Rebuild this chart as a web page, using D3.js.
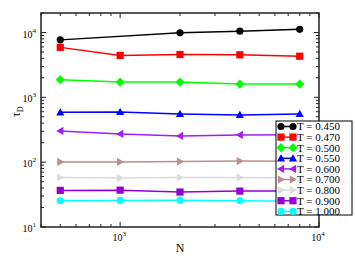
<!DOCTYPE html>
<meta charset="utf-8">
<script src="https://d3js.org/d3.v7.min.js"></script>
<style>
  body { margin: 0; background: #fff; }
  text { font-family: "Liberation Serif", "DejaVu Serif", serif; }
</style>
<div id="my_dataviz"></div>
<script>

// data (null = no point at that N)
var sizes = [500, 1000, 2000, 4000, 8000];
var temps = ["0.450", "0.470", "0.500", "0.550", "0.600", "0.700", "0.800", "0.900", "1.000"];
var tau045 = [7700, null, 9900, 10500, 11200];
var tau047 = [5900, 4430, 4580, 4530, 4310];
var tau050 = [1870, 1720, 1720, 1600, 1600];
var tau055 = [588, 594, 554, 535, 554];
var tau060 = [303, 273, 254, 263, 265];
var tau070 = [101, 101, 102, 104, 103];
var tau080 = [58, 57, 58, 58, 57];
var tau090 = [36.7, 37, 34.6, 35.8, 36];
var tau100 = [25.4, 25.7, 25.9, 25.4, 25];
var xTicks = [1000, 10000];
var yTicks = [10, 100, 1000, 10000];

var colors = ["#000000", "#ff0000", "#00ff00", "#0000ff", "#a020f0", "#bc8f8f", "#dcdcdc", "#9400d3", "#00ffff"];
var shapes = ["circle", "square", "diamond", "up", "left", "right", "right", "square", "circle"];
var allTau = [tau045, tau047, tau050, tau055, tau060, tau070, tau080, tau090, tau100];

var margin = {top: 13, right: 36, bottom: 40, left: 41},
    width = 355 - margin.left - margin.right,
    height = 267 - margin.top - margin.bottom;

var svg = d3.select("#my_dataviz")
  .append("svg")
    .attr("width", 355)
    .attr("height", 267)
  .append("g")
    .attr("transform", "translate(" + margin.left + "," + margin.top + ")");

var x = d3.scaleLog().domain([400, 10000]).range([0, width]);
var y = d3.scaleLog().domain([10, 20000]).range([height, 0]);

// minor ticks
var xMinor = [], yMinor = [];
[100, 1000].forEach(function(d) { for (var k = 2; k <= 9; k++) if (d * k >= 400 && d * k < 10000) xMinor.push(d * k); });
[10, 100, 1000, 10000].forEach(function(d) { for (var k = 2; k <= 9; k++) if (d * k <= 20000) yMinor.push(d * k); });

function sup(sel, p) {
  sel.append("tspan").text("10");
  sel.append("tspan").attr("dy", -5).style("font-size", "7px").text(p);
}

var ax = svg.append("g").attr("stroke", "#222").attr("stroke-width", 1);
xTicks.forEach(function(d) {
  ax.append("line").attr("x1", x(d)).attr("x2", x(d)).attr("y1", height).attr("y2", height - 5);
  ax.append("line").attr("x1", x(d)).attr("x2", x(d)).attr("y1", 0).attr("y2", 5);
});
xMinor.forEach(function(d) {
  ax.append("line").attr("x1", x(d)).attr("x2", x(d)).attr("y1", height).attr("y2", height - 3);
  ax.append("line").attr("x1", x(d)).attr("x2", x(d)).attr("y1", 0).attr("y2", 3);
});
yTicks.forEach(function(d) {
  ax.append("line").attr("y1", y(d)).attr("y2", y(d)).attr("x1", 0).attr("x2", 5);
  ax.append("line").attr("y1", y(d)).attr("y2", y(d)).attr("x1", width).attr("x2", width - 5);
});
yMinor.forEach(function(d) {
  ax.append("line").attr("y1", y(d)).attr("y2", y(d)).attr("x1", 0).attr("x2", 3);
  ax.append("line").attr("y1", y(d)).attr("y2", y(d)).attr("x1", width).attr("x2", width - 3);
});

xTicks.forEach(function(d) {
  svg.append("text").attr("x", x(d) - 1).attr("y", height + 14)
    .attr("text-anchor", "middle").style("font-size", "10px")
    .call(sup, Math.round(Math.log10(d)));
});
yTicks.forEach(function(d) {
  svg.append("text").attr("x", -5).attr("y", y(d) + 5)
    .attr("text-anchor", "end").style("font-size", "10px")
    .call(sup, Math.round(Math.log10(d)));
});

svg.append("text").attr("x", x(2000)).attr("y", height + 25)
  .attr("text-anchor", "middle").style("font-size", "12px").text("N");
svg.append("text")
  .attr("transform", "translate(-21," + (y(600)) + ")rotate(-90)")
  .attr("text-anchor", "middle").style("font-size", "12px")
  .call(function(t) {
    t.append("tspan").text("τ");
    t.append("tspan").attr("dy", 3).style("font-size", "8px").text("D");
  });

function marker(g, shape, cx, cy, color) {
  var s = 3.6, p;
  if (shape == "circle") {
    g.append("circle").attr("cx", cx).attr("cy", cy).attr("r", s).attr("fill", color);
    return;
  }
  if (shape == "square") p = [[-s, -s], [s, -s], [s, s], [-s, s]];
  if (shape == "diamond") p = [[0, -s - 1], [s + 1, 0], [0, s + 1], [-s - 1, 0]];
  if (shape == "up") p = [[0, -s - 0.5], [s + 0.5, s - 0.5], [-s - 0.5, s - 0.5]];
  if (shape == "left") p = [[-s - 0.5, 0], [s - 0.5, -s - 0.5], [s - 0.5, s + 0.5]];
  if (shape == "right") p = [[s + 0.5, 0], [-s + 0.5, -s - 0.5], [-s + 0.5, s + 0.5]];
  g.append("polygon")
    .attr("points", p.map(function(q) { return (cx + q[0]) + "," + (cy + q[1]); }).join(" "))
    .attr("fill", color);
}

var line = d3.line().x(function(d) { return x(d[0]); }).y(function(d) { return y(d[1]); });

allTau.forEach(function(vals, i) {
  var pts = sizes.map(function(n, j) { return [n, vals[j]]; })
    .filter(function(d) { return d[1] != null; });
  var g = svg.append("g");
  g.append("path").datum(pts).attr("d", line)
    .attr("fill", "none").attr("stroke", colors[i]).attr("stroke-width", 1.5);
  pts.forEach(function(d) { marker(g, shapes[i], x(d[0]), y(d[1]), colors[i]); });
});

// frame
svg.append("rect").attr("width", width).attr("height", height)
  .attr("fill", "none").attr("stroke", "#222").attr("stroke-width", 1.5);

// legend
var lg = svg.append("g").attr("transform", "translate(" + (276 - margin.left) + "," + (121 - margin.top) + ")");
lg.append("rect").attr("width", 76).attr("height", 94)
  .attr("fill", "#fff").attr("stroke", "#000").attr("stroke-width", 1);
temps.forEach(function(t, i) {
  var yy = 5.5 + i * 10.6;
  lg.append("line").attr("x1", 5).attr("x2", 17).attr("y1", yy).attr("y2", yy)
    .attr("stroke", colors[i]).attr("stroke-width", 1.5);
  marker(lg, shapes[i], 5, yy, colors[i]);
  marker(lg, shapes[i], 17, yy, colors[i]);
  lg.append("text").attr("x", 21).attr("y", yy + 3.8).style("font-size", "11px").text("T = " + t);
});

</script>
